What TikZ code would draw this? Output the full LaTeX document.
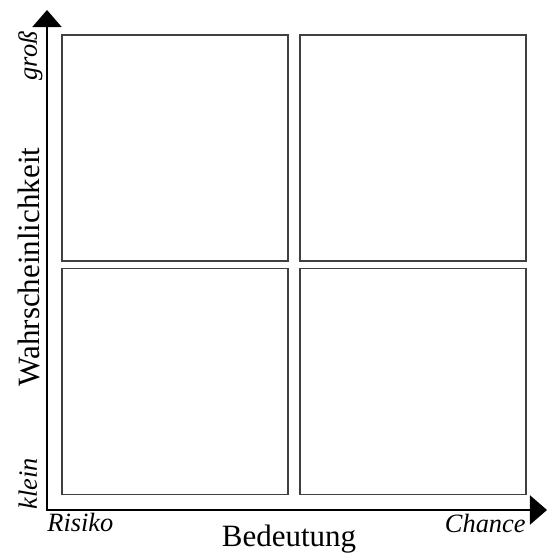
\documentclass[tikz,border=0pt]{standalone}
\usepackage{fontspec}
\setmainfont{Liberation Serif}
\usetikzlibrary{arrows.meta}

\begin{document}
\begin{tikzpicture}[x=0.5pt, y=0.5pt,
        field/.style={draw=black!75, line width=0.7pt, minimum width=113pt, minimum height=113pt, inner sep=0pt},
        axis/.style={line width=1pt, -{Triangle[length=8.5pt, width=14.5pt]}},
        endlabel/.style={font=\itshape\fontsize{13.2}{15}\selectfont, inner sep=0pt},
        axislabel/.style={font=\fontsize{15.5}{18}\selectfont, inner sep=0pt}]
        \useasboundingbox (0,0) rectangle (547,554);

        % Draw the axes
        \coordinate (origin) at (47,44);
        \coordinate (ytip) at (47,544);
        \coordinate (xtip) at (547,44);
        \draw[axis] (47,43.5) -- (ytip); % Probability axis
        \draw[axis] (origin) -- (xtip); % Impact axis

        % Draw the four fields
        \node[field] (tl) at (175,406) {};
        \node[field] (tr) at (413,406) {};
        \node[field] (bl) at (175,172.5) {};
        \node[field] (br) at (413,172.5) {};

        % Axis labels
        \node[axislabel, rotate=90, anchor=base] (ylabel) at (40,287) {Wahrscheinlichkeit};
        \node[axislabel, anchor=base] (xlabel) at (289,7) {Bedeutung};

        % End labels
        \node[endlabel, rotate=90, anchor=base] (big) at (37,498) {groß};
        \node[endlabel, rotate=90, anchor=base] (small) at (37,70) {klein};
        \node[endlabel, anchor=base west] (risk) at (47,23) {Risiko};
        \node[endlabel, anchor=base east] (chance) at (526,22) {Chance};

    \end{tikzpicture}
\end{document}
